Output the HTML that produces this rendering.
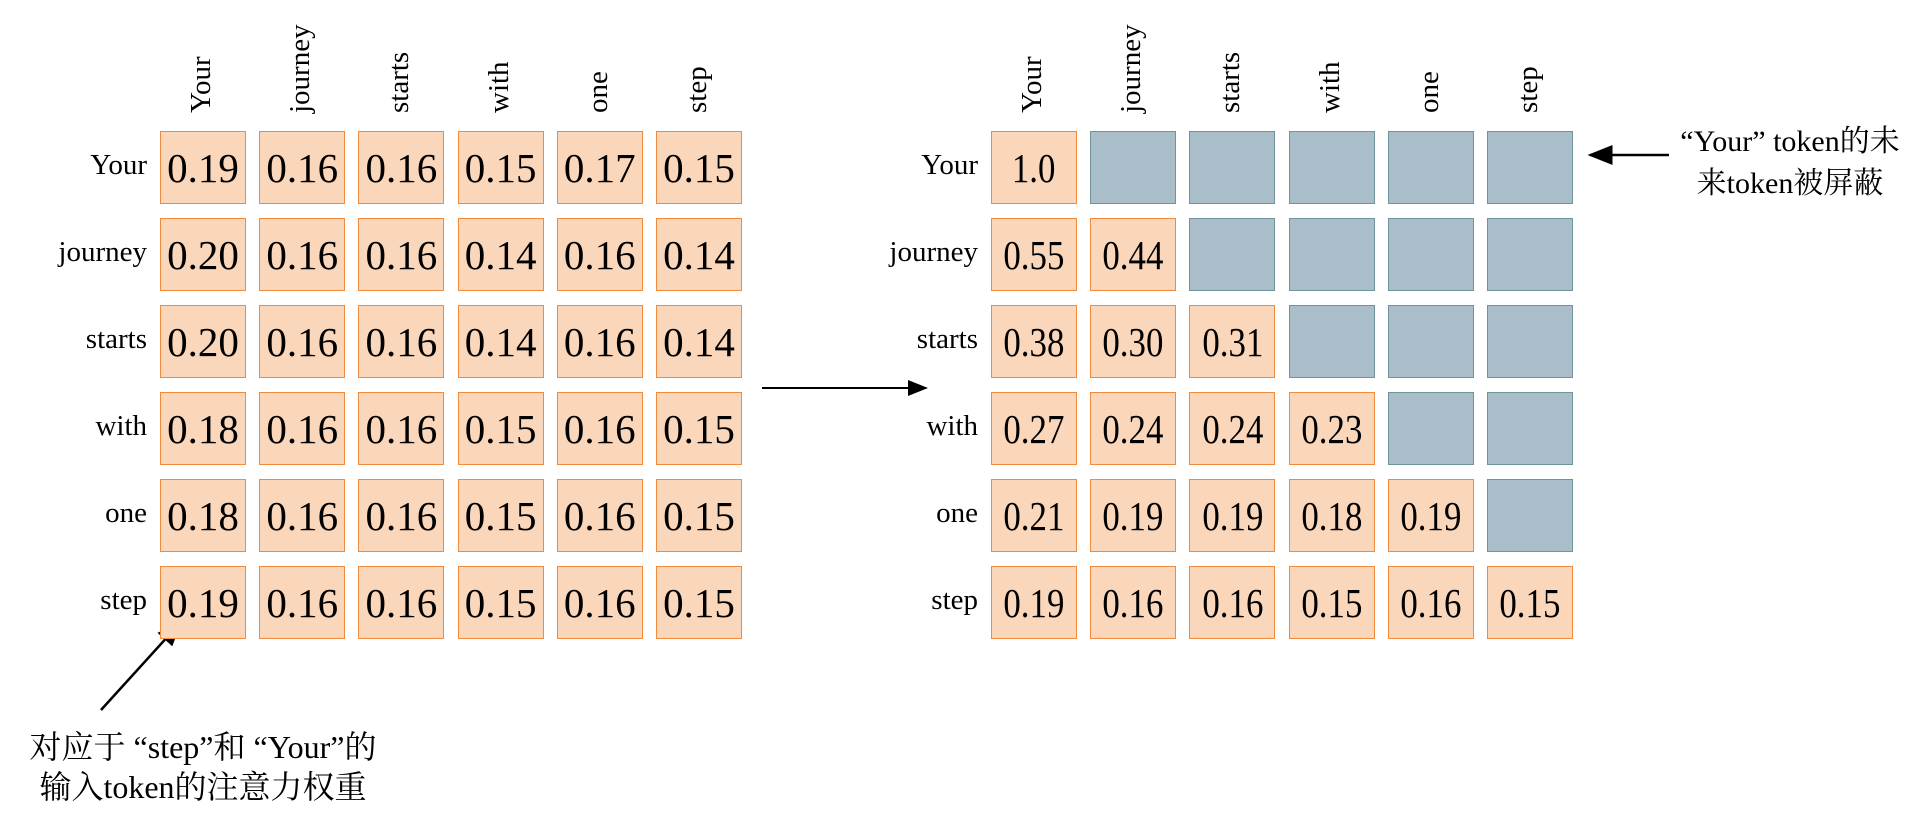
<!DOCTYPE html>
<html><head><meta charset="utf-8"><style>
body{margin:0;background:#fff;width:1927px;height:818px;overflow:hidden;position:relative;font-family:"Liberation Serif","Noto Serif CJK SC",serif}
.c{position:absolute;box-sizing:border-box;border:1.5px solid #f08a3c;background:#fad6ba;display:flex;align-items:center;justify-content:center;font-size:41px;color:#000}
.m{background:#a9bec8;border-color:#6f949e}
.rl{position:absolute;font-size:29px;text-align:right;width:150px}
.cl{position:absolute;font-size:29px;transform-origin:0 0;transform:rotate(-90deg);white-space:nowrap}
.t{position:absolute;font-size:30px;white-space:nowrap;text-align:center}
</style></head><body>
<div id="root"></div>
<svg width="1927" height="818" style="position:absolute;left:0;top:0">
<defs><marker id="ah" markerWidth="10" markerHeight="8" refX="9" refY="4" orient="auto"><path d="M0,0 L10,4 L0,8 z" fill="#000"/></marker></defs>
<line x1="762" y1="388" x2="926" y2="388" stroke="#000" stroke-width="2" marker-end="url(#ah)"/>
<line x1="1669" y1="155" x2="1590" y2="155" stroke="#000" stroke-width="2.5" marker-end="url(#ah)"/>
<line x1="101" y1="710" x2="180" y2="623" stroke="#000" stroke-width="2.5" marker-end="url(#ah)"/>
</svg>
<div class="t" style="left:1660px;top:116px;width:260px">“Your” token的未</div>
<div class="t" style="left:1660px;top:158px;width:260px">来token被屏蔽</div>
<div class="t" style="left:0px;top:722px;width:406px;font-size:32px">对应于 “step”和 “Your”的</div>
<div class="t" style="left:0px;top:762px;width:406px;font-size:32px">输入token的注意力权重</div>
<script>
const tokens=["Your","journey","starts","with","one","step"];
const leftVals=[["0.19","0.16","0.16","0.15","0.17","0.15"],["0.20","0.16","0.16","0.14","0.16","0.14"],["0.20","0.16","0.16","0.14","0.16","0.14"],["0.18","0.16","0.16","0.15","0.16","0.15"],["0.18","0.16","0.16","0.15","0.16","0.15"],["0.19","0.16","0.16","0.15","0.16","0.15"]];
const rightVals=[["1.0"],["0.55","0.44"],["0.38","0.30","0.31"],["0.27","0.24","0.24","0.23"],["0.21","0.19","0.19","0.18","0.19"],["0.19","0.16","0.16","0.15","0.16","0.15"]];
const root=document.body;
function grid(x0,pitchX,vals,prefix,squeeze){
  const y0=131,pitchY=87,w=86,h=73;
  tokens.forEach((tk,r)=>{
    const l=document.createElement('div');l.className='rl';
    
    
    l.style.left=(x0-163)+'px';l.style.top=(y0+r*pitchY+18)+'px';l.textContent=tk;root.appendChild(l);
    const c=document.createElement('div');c.className='cl';
    
    
    c.style.left=(x0+r*pitchX+w/2-18)+'px';c.style.top='113px';c.textContent=tk;root.appendChild(c);
    for(let j=0;j<6;j++){
      const v=vals[r][j];const d=document.createElement('div');
      d.className='c'+(v===undefined?' m':'');
      
      
      d.style.left=(x0+j*pitchX)+'px';d.style.top=(y0+r*pitchY)+'px';d.style.width=w+'px';d.style.height=h+'px';
      if(v!==undefined){const s=document.createElement('span');s.textContent=v;if(squeeze){s.style.display='inline-block';s.style.transform='scaleX(0.85)';}d.appendChild(s);}
      root.appendChild(d);
    }
  });
}
grid(160,99.2,leftVals,'left',false);
grid(991,99.2,rightVals,'right',true);
</script>
</body></html>
